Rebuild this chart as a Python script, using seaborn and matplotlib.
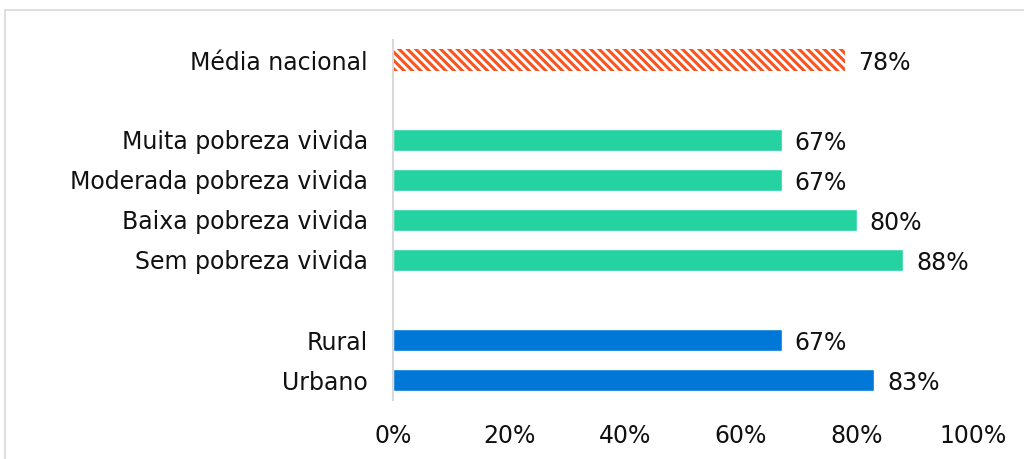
import matplotlib.pyplot as plt
import matplotlib.lines as mlines
import pandas as pd
import seaborn as sns

categories = [
    "Média nacional",
    "Muita pobreza vivida",
    "Moderada pobreza vivida",
    "Baixa pobreza vivida",
    "Sem pobreza vivida",
    "Rural",
    "Urbano",
]
values = [0.78, 0.67, 0.67, 0.80, 0.88, 0.67, 0.83]
groups = ["nacional", "pobreza", "pobreza", "pobreza", "pobreza", "area", "area"]
group_colors = {"nacional": "#FA5320", "pobreza": "#25D3A2", "area": "#0078D7"}
ticks = [0, 0.2, 0.4, 0.6, 0.8, 1.0]

# blank rows separate the three blocks
order = [categories[0], "_gap1", *categories[1:5], "_gap2", *categories[5:]]

df = pd.DataFrame({"categoria": categories, "valor": values, "grupo": groups})

sns.set_theme(style="white")
plt.rcParams["font.family"] = ["DejaVu Sans"]
plt.rcParams["hatch.linewidth"] = 2.2

fig = plt.figure(figsize=(10.24, 4.59), dpi=100)
ax = fig.add_axes([393 / 1024, 1 - 400 / 459, 580 / 1024, 360 / 459])

sns.barplot(
    data=df, y="categoria", x="valor", hue="grupo", order=order,
    palette=group_colors, dodge=False, width=0.56, saturation=1,
    legend=False, ax=ax,
)

# hatched national average bar
for bar in ax.containers[0]:
    bar.set_facecolor("white")
    bar.set_edgecolor(group_colors["nacional"])
    bar.set_linewidth(0)
    bar.set_hatch("\\\\\\\\")

fs = 17
txt = "#111111"
for cont in ax.containers:
    labels = ax.bar_label(cont, labels=[f"{v * 100:.0f}%" for v in cont.datavalues],
                          padding=9, fontsize=fs, color=txt)
    for lab in labels:
        lab.xyann = (9, -2)

ax.set_xlim(0, 1)
ax.set_ylim(len(order) - 0.5, -0.5)
ax.set_xticks(ticks)
ax.set_xticklabels([f"{t * 100:.0f}%" for t in ticks], fontsize=fs, color=txt)
ax.set_yticks(range(len(order)))
ax.set_yticklabels(["" if c.startswith("_gap") else c for c in order],
                   fontsize=fs, color=txt)
ax.tick_params(axis="x", length=0, pad=17)
ax.tick_params(axis="y", length=0, pad=18)
ax.set_xlabel("")
ax.set_ylabel("")
for side in ["top", "right", "bottom"]:
    ax.spines[side].set_visible(False)
ax.spines["left"].set_color("#D9D9D9")
ax.spines["left"].set_linewidth(1.5)

# chart area frame
frame = "#D9D9D9"
fig.add_artist(mlines.Line2D([5 / 1024, 1], [1 - 10 / 459, 1 - 10 / 459], color=frame, lw=1.2))
fig.add_artist(mlines.Line2D([5 / 1024, 5 / 1024], [0, 1 - 10 / 459], color=frame, lw=1.2))

fig.savefig("out.png", dpi=100)
